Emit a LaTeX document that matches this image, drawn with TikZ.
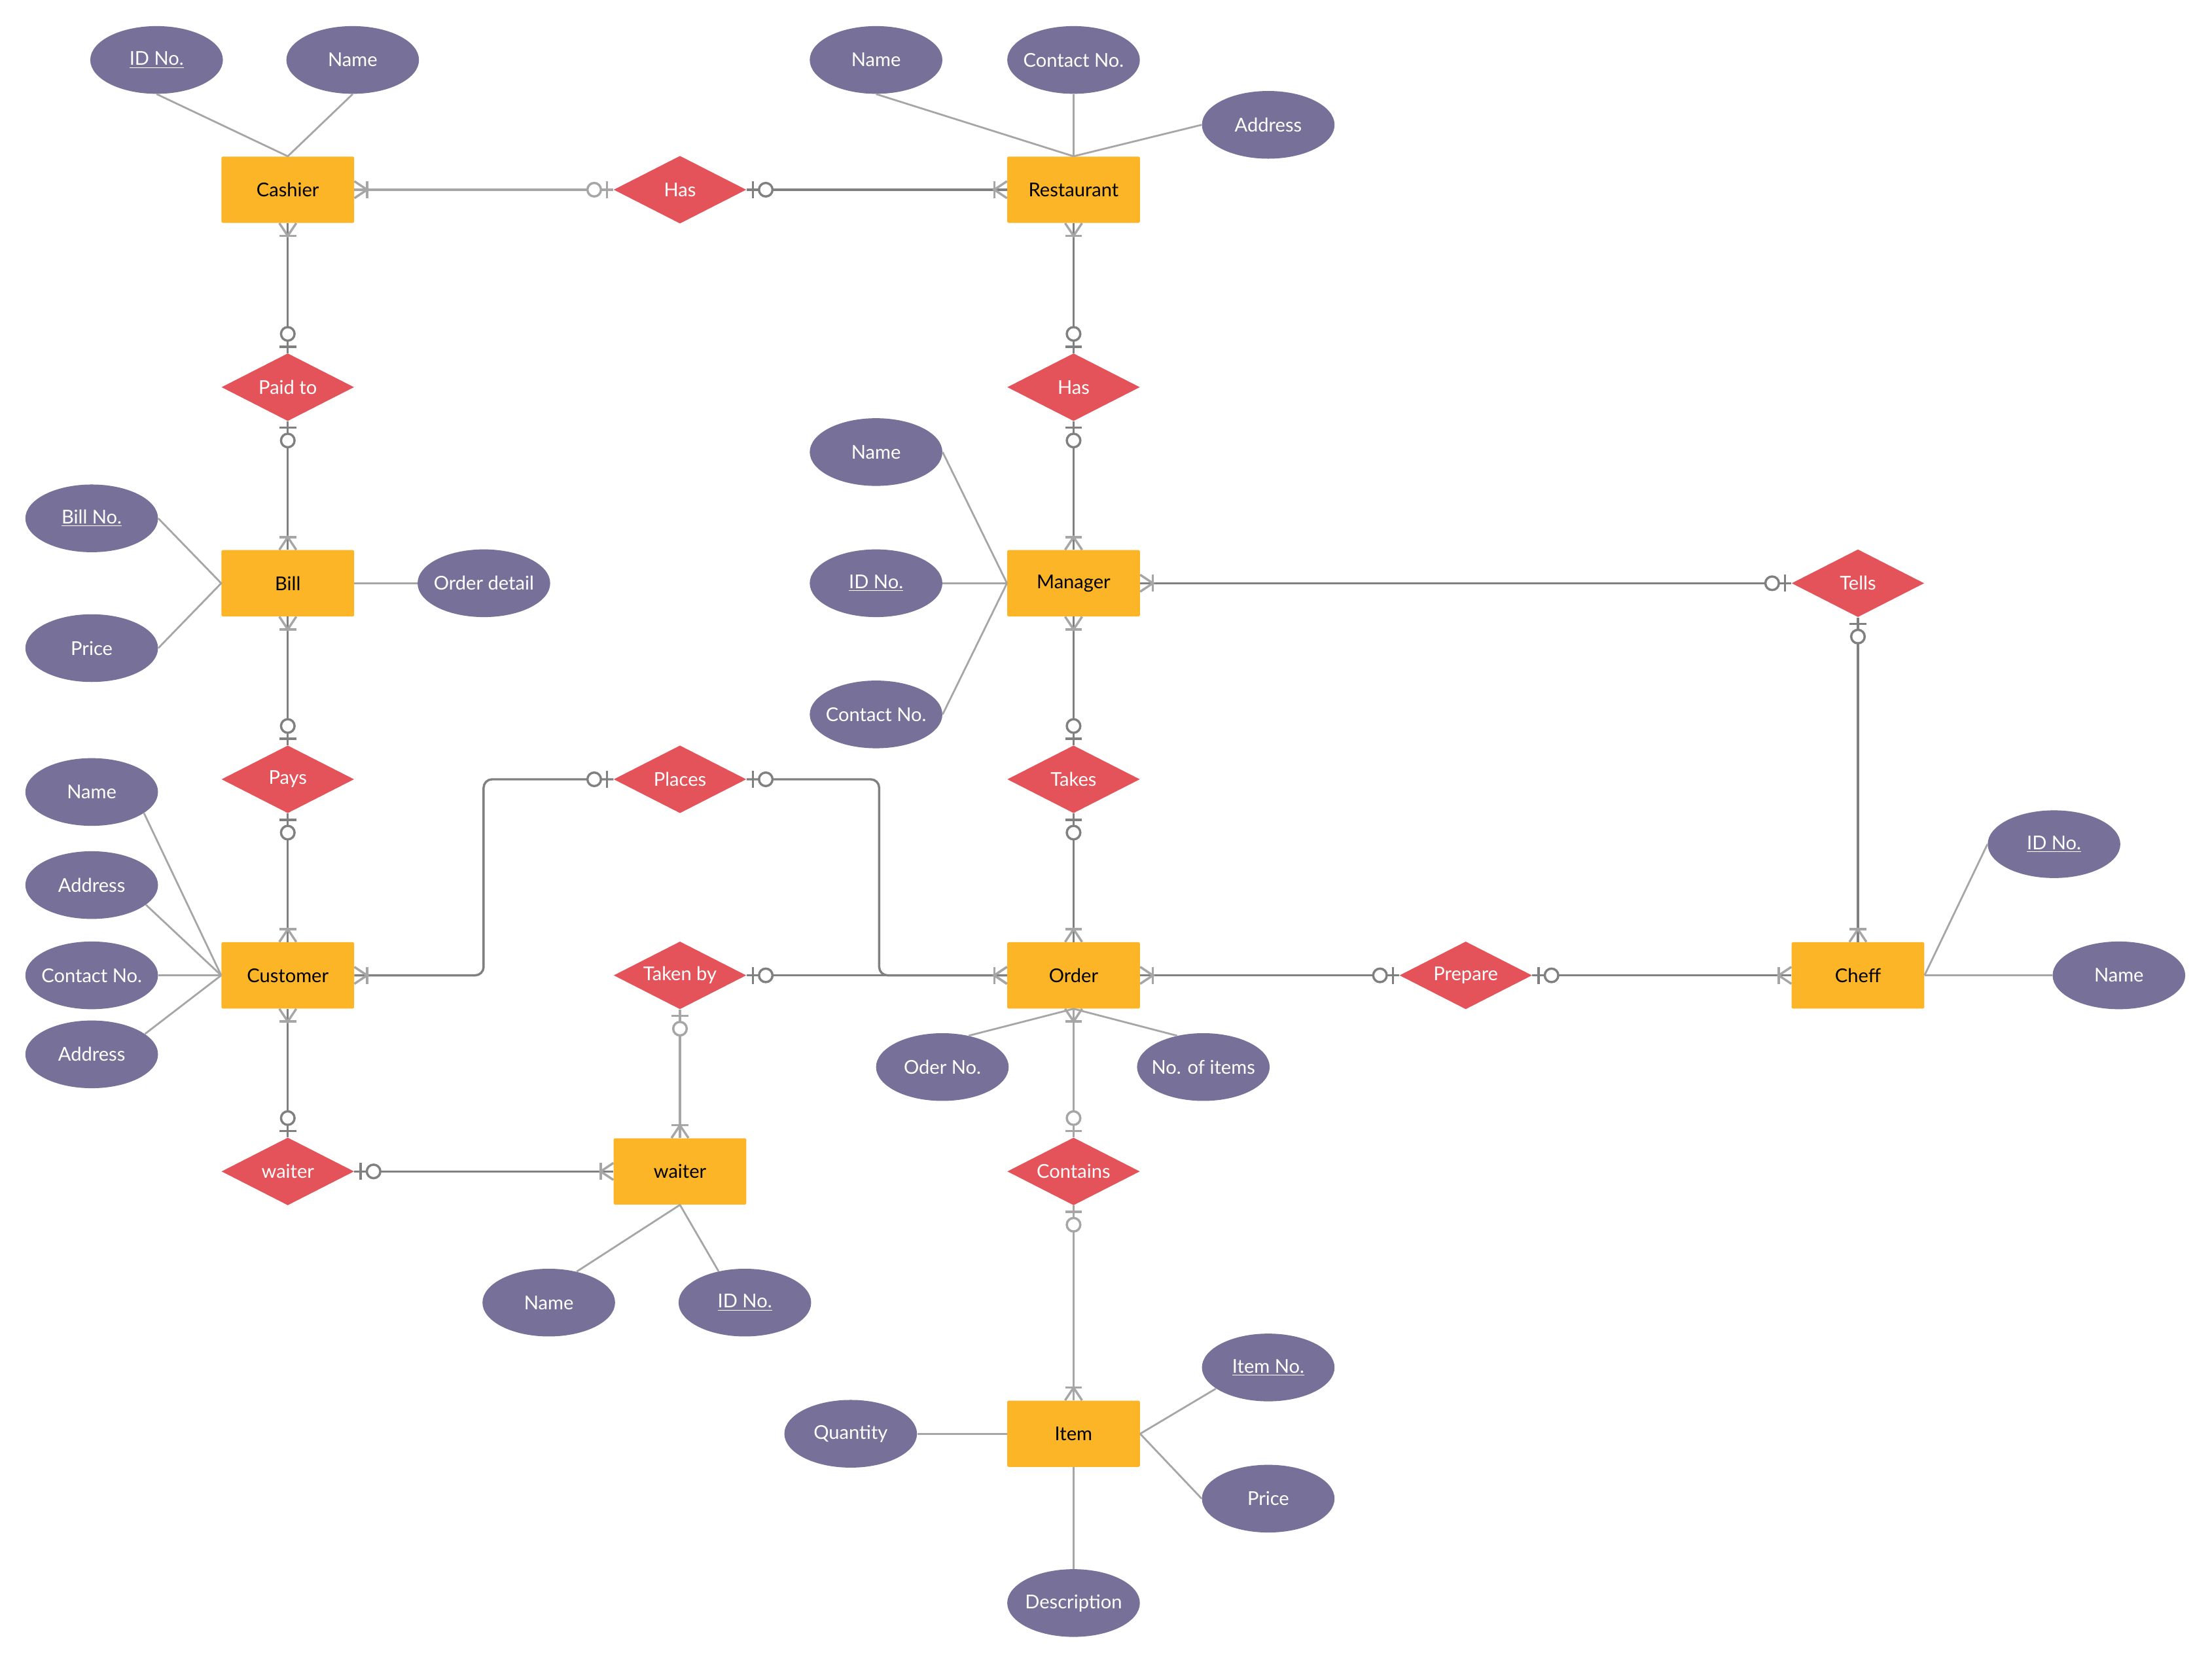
\documentclass[tikz,border=0pt]{standalone}
\usepackage{fontspec}
\setmainfont{Lato}
\usetikzlibrary{shapes.geometric,decorations.markings}
\definecolor{ent}{HTML}{FBB526}
\definecolor{relc}{HTML}{E5535A}
\definecolor{attc}{HTML}{777098}
\definecolor{dk}{HTML}{808080}
\definecolor{lt}{HTML}{A6A6A6}
\newcommand\zw[1]{\makebox[0pt]{#1}}
\begin{document}
\begin{tikzpicture}[x=1pt,y=-1pt, font=\fontsize{13.5}{15}\selectfont,
  entity/.style={fill=ent,minimum width=94pt,minimum height=47pt,inner sep=0pt,rounded corners=1pt,text=black},
  relation/.style={diamond,aspect=2,fill=relc,minimum width=94pt,minimum height=48pt,inner sep=0pt,text=white},
  attr/.style={ellipse,fill=attc,minimum width=94pt,minimum height=48pt,inner sep=0pt,text=white},
  aline/.style={draw=lt,line width=1.3pt},
  conn/.style={draw=#1,line width=1.6pt,rounded corners=6pt,
     postaction={decorate,decoration={markings,
       mark=at position 0 with {\draw[#1,line width=1.6pt,sharp corners] (4.5pt,-6pt)--(4.5pt,6pt); \draw[#1,line width=1.6pt,fill=white] (13.6pt,0pt) circle (4.8pt);},
       mark=at position 1 with {\draw[lt,line width=1.6pt,sharp corners] (-9pt,-6pt)--(-9pt,6pt); \draw[lt,line width=1.6pt,sharp corners] (0pt,-6pt)--(-9pt,0pt)--(0pt,6pt);}}}},
  conn/.default=dk]
\useasboundingbox[fill=white] (0,0) rectangle (1568,1178);

% entities
\node[entity] (cashier) at (204,134.5) {Cashier};
\node[entity] (restaurant) at (761,134.5) {Restaurant};
\node[entity] (bill) at (204,413.5) {Bill};
\node[entity] (manager) at (761,413.5) {Manager};
\node[entity] (customer) at (204,691.5) {Customer};
\node[entity] (order) at (761,691.5) {Order};
\node[entity] (cheff) at (1317,691.5) {Cheff};
\node[entity] (waiterE) at (482,830.5) {waiter};
\node[entity] (item) at (761,1016.5) {Item};

% relationships
\node[relation] (hasA) at (482,134.5) {Has};
\node[relation] (paidto) at (204,274.5) {Paid to};
\node[relation] (hasB) at (761,274.5) {Has};
\node[relation] (tells) at (1317,413.5) {Tells};
\node[relation] (pays) at (204,552.5) {Pays};
\node[relation] (places) at (482,552.5) {Places};
\node[relation] (takes) at (761,552.5) {Takes};
\node[relation] (takenby) at (482,691.5) {Taken by};
\node[relation] (prepare) at (1039,691.5) {Prepare};
\node[relation] (waiterR) at (204,830.5) {waiter};
\node[relation] (contains) at (761,830.5) {Contains};

% attributes
\node[attr] (a1) at (111,42.5) {\zw{\underline{ID No.}}};
\node[attr] (a2) at (250,42.5) {\zw{Name}};
\node[attr] (a3) at (621,42.5) {\zw{Name}};
\node[attr] (a4) at (761,42.5) {\zw{Contact No.}};
\node[attr] (a5) at (899,88.5) {\zw{Address}};
\node[attr] (a6) at (621,320.5) {\zw{Name}};
\node[attr] (a7) at (621,413.5) {\zw{\underline{ID No.}}};
\node[attr] (a8) at (621,506.5) {\zw{Contact No.}};
\node[attr] (a9) at (65,367.5) {\zw{\underline{Bill No.}}};
\node[attr] (a10) at (65,459.5) {\zw{Price}};
\node[attr] (a11) at (343,413.5) {\zw{Order detail}};
\node[attr] (a12) at (65,561.5) {\zw{Name}};
\node[attr] (a13) at (65,627.5) {\zw{Address}};
\node[attr] (a14) at (65,691.5) {\zw{Contact No.}};
\node[attr] (a15) at (65,747.5) {\zw{Address}};
\node[attr] (a16) at (668,756.5) {\zw{Oder No.}};
\node[attr] (a17) at (853,756.5) {\zw{No. of items}};
\node[attr] (a18) at (1456,598.5) {\zw{\underline{ID No.}}};
\node[attr] (a19) at (1502,691.5) {\zw{Name}};
\node[attr] (a20) at (389,923.5) {\zw{Name}};
\node[attr] (a21) at (528,923.5) {\zw{\underline{ID No.}}};
\node[attr] (a22) at (603,1016.5) {\zw{Quantity}};
\node[attr] (a23) at (899,969.5) {\zw{\underline{Item No.}}};
\node[attr] (a24) at (899,1062.5) {\zw{Price}};
\node[attr] (a25) at (761,1136.5) {\zw{Description}};

% attribute lines
\draw[aline] (a1.south) -- (cashier.north) -- (a2.south);
\draw[aline] (a3.south) -- (restaurant.north);
\draw[aline] (a4.south) -- (restaurant.north);
\draw[aline] (a5.west) -- (restaurant.north);
\draw[aline] (a6.east) -- (manager.west);
\draw[aline] (a7.east) -- (manager.west);
\draw[aline] (a8.east) -- (manager.west);
\draw[aline] (a9.east) -- (bill.west) -- (a10.east);
\draw[aline] (bill.east) -- (a11.west);
\draw[aline] (a12.-22) -- (customer.west);
\draw[aline] (a13.-20) -- (customer.west);
\draw[aline] (a14.east) -- (customer.west);
\draw[aline] (a15.21) -- (customer.west);
\draw[aline] (a16.50) -- (order.south) -- (a17.130);
\draw[aline] (cheff.east) -- (a18.west);
\draw[aline] (cheff.east) -- (a19.west);
\draw[aline] (a20.48) -- (waiterE.south) -- (a21.130);
\draw[aline] (a22.east) -- (item.west);
\draw[aline] (item.east) -- (a23.-158);
\draw[aline] (item.east) -- (a24.west);
\draw[aline] (item.south) -- (a25.north);

% relationship connectors
\draw[conn=lt] (hasA.west) -- (cashier.east);
\draw[conn] (hasA.east) -- (restaurant.west);
\draw[conn] (paidto.north) -- (cashier.south);
\draw[conn] (paidto.south) -- (bill.north);
\draw[conn] (hasB.north) -- (restaurant.south);
\draw[conn] (hasB.south) -- (manager.north);
\draw[conn] (tells.west) -- (manager.east);
\draw[conn] (tells.south) -- (cheff.north);
\draw[conn] (pays.north) -- (bill.south);
\draw[conn] (pays.south) -- (customer.north);
\draw[conn] (places.west) -- ++(-92,0) |- (customer.east);
\draw[conn] (places.east) -- ++(94,0) |- (order.west);
\draw[conn] (takes.north) -- (manager.south);
\draw[conn] (takes.south) -- (order.north);
\draw[conn] (takenby.east) -- (order.west);
\draw[conn=lt] (takenby.south) -- (waiterE.north);
\draw[conn] (prepare.west) -- (order.east);
\draw[conn] (prepare.east) -- (cheff.west);
\draw[conn] (waiterR.north) -- (customer.south);
\draw[conn] (waiterR.east) -- (waiterE.west);
\draw[conn=lt] (contains.north) -- (order.south);
\draw[conn=lt] (contains.south) -- (item.north);
\end{tikzpicture}
\end{document}
